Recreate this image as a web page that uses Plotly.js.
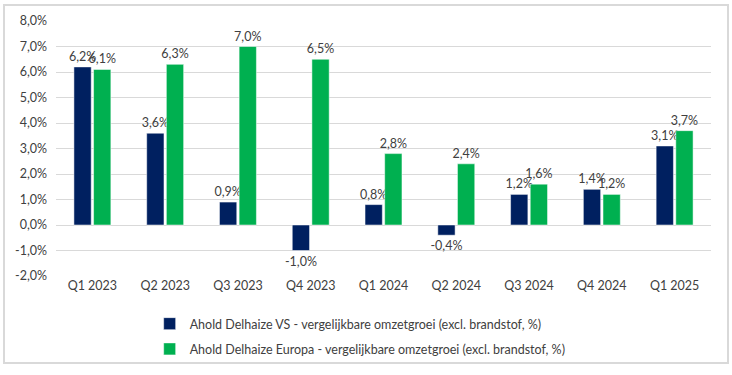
<!DOCTYPE html>
<html>
<head>
<meta charset="utf-8">
<script src="https://cdn.plot.ly/plotly-3.0.1.min.js"></script>
<style>
html,body{margin:0;padding:0;background:#fff;}
#wrap{position:relative;width:732px;height:375px;}
#chart{width:732px;height:375px;}
#frame{position:absolute;left:3px;top:4px;width:722px;height:356px;border:2px solid #d9d9d9;pointer-events:none;}
</style>
</head>
<body>
<div id="wrap"><div id="chart"></div><div id="frame"></div></div>
<script>
const categories = ["Q1 2023","Q2 2023","Q3 2023","Q4 2023","Q1 2024","Q2 2024","Q3 2024","Q4 2024","Q1 2025"];
const usValues = [6.2, 3.6, 0.9, -1.0, 0.8, -0.4, 1.2, 1.4, 3.1];
const euValues = [6.1, 6.3, 7.0, 6.5, 2.8, 2.4, 1.6, 1.2, 3.7];
const usName = "Ahold Delhaize VS - vergelijkbare omzetgroei (excl. brandstof, %)";
const euName = "Ahold Delhaize Europa - vergelijkbare omzetgroei (excl. brandstof, %)";
const yTicks = [-2,-1,0,1,2,3,4,5,6,7,8];
const yTickText = yTicks.map(v => v.toFixed(1).replace(".", ",") + "%");

const fontFam = "Lato, 'Open Sans', sans-serif";
const txtColor = "#404040";

function bar(name, vals, color, grp){
  return {
    type: "bar", name: name, x: categories, y: vals,
    marker: {color: color, line: {color: "#ffffff", width: 0.5}},
    text: vals.map(v => v.toFixed(1).replace(".", ",") + "%"),
    texttemplate: "%{text}", textposition: "outside",
    textfont: {family: fontFam, size: 12.5, color: txtColor},
    cliponaxis: false, constraintext: "none",
    legendgroup: grp, hoverinfo: "skip"
  };
}

const data = [
  bar(usName, usValues, "#002060", "a"),
  bar(euName, euValues, "#00B050", "b")
];

const layout = {
  width: 732, height: 375,
  margin: {l: 56, r: 21, t: 21, b: 98},
  separators: ",.",
  paper_bgcolor: "#ffffff", plot_bgcolor: "#ffffff",
  barmode: "group", bargap: 0.46, bargroupgap: 0.12,
  font: {family: fontFam, size: 12, color: txtColor},
  showlegend: true,
  legend: {
    orientation: "v", x: 0.143, xanchor: "left", y: -0.125, yanchor: "top",
    font: {family: fontFam, size: 12.5, color: txtColor},
    traceorder: "grouped", tracegroupgap: 6, bgcolor: "rgba(0,0,0,0)"
  },
  xaxis: {
    type: "category", showgrid: false, zeroline: false, showline: false,
    ticks: "", tickfont: {family: fontFam, size: 12.5, color: txtColor}
  },
  yaxis: {
    range: [-2, 8], tickmode: "array", tickvals: yTicks, ticktext: yTickText,
    showgrid: true, gridcolor: "#d9d9d9", gridwidth: 1,
    zeroline: true, zerolinecolor: "#d9d9d9", zerolinewidth: 1,
    showline: false, ticks: "", ticklabelstandoff: 8,
    tickfont: {family: fontFam, size: 12.5, color: txtColor}
  }
};

Plotly.newPlot("chart", data, layout, {displayModeBar: false, staticPlot: true});
</script>
</body>
</html>
